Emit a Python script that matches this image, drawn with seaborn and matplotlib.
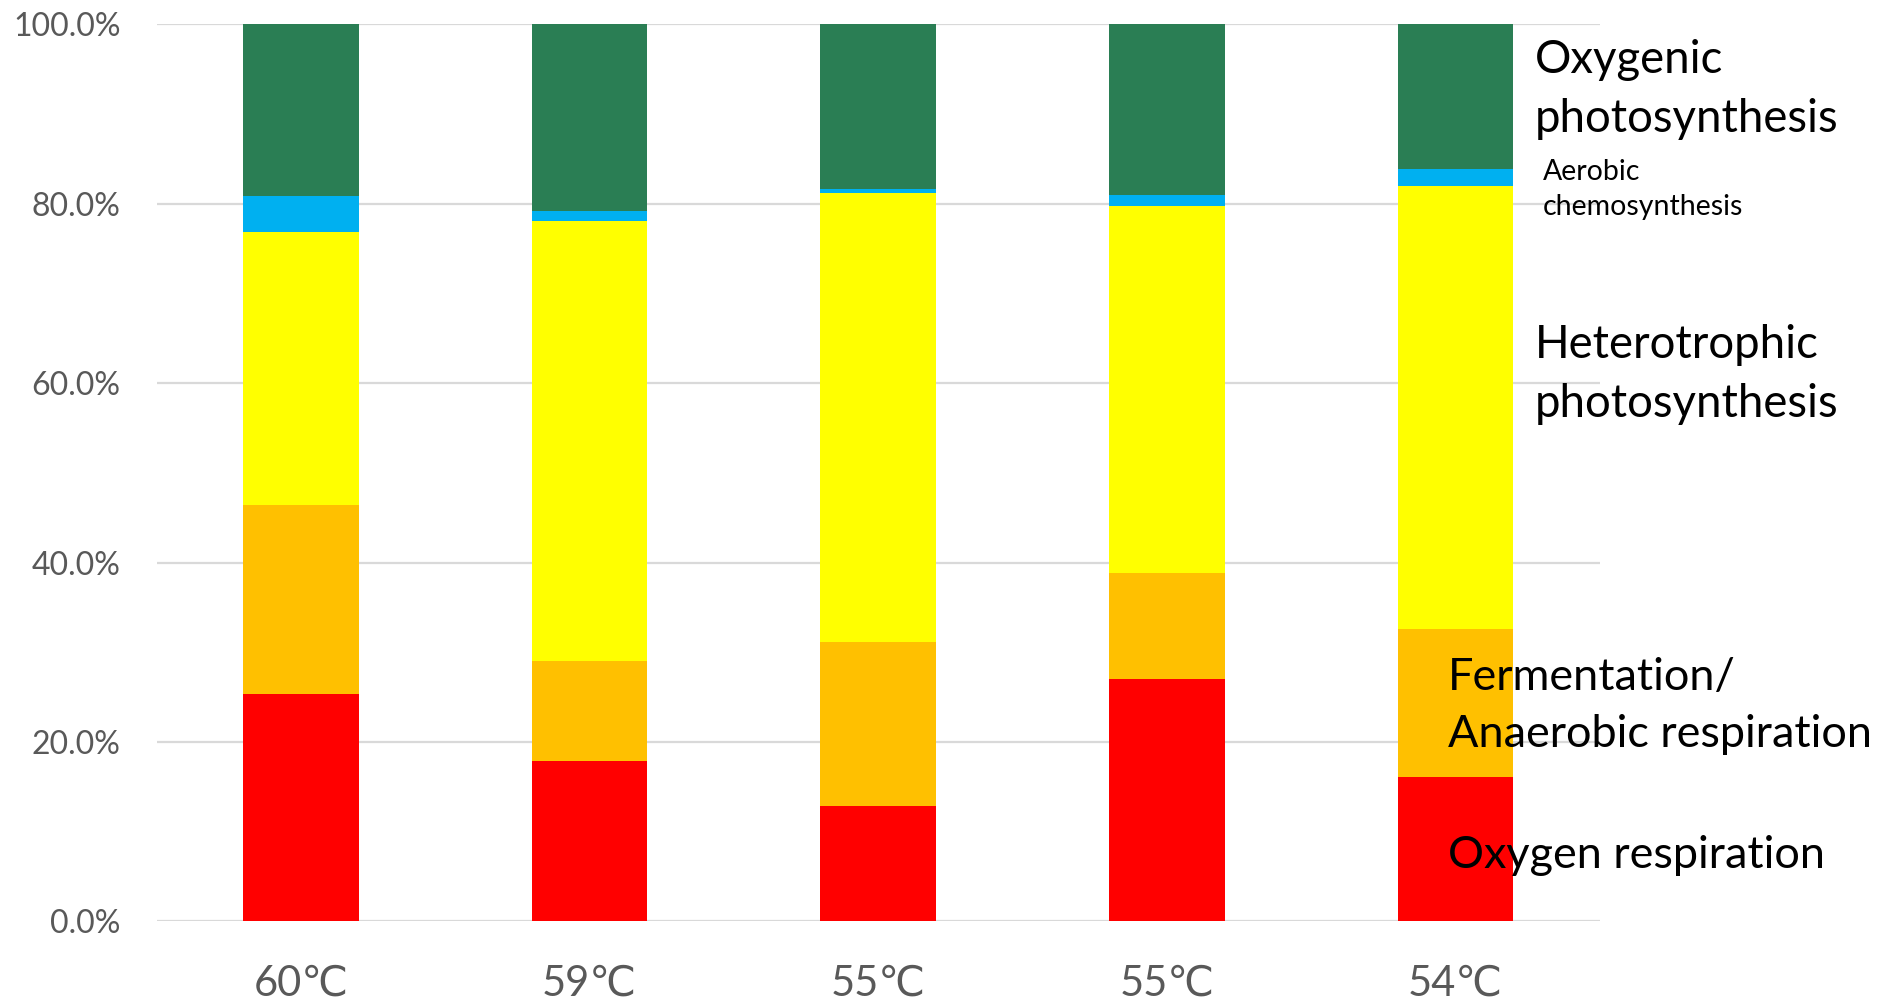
import matplotlib
matplotlib.use("Agg")
import matplotlib.pyplot as plt
import seaborn as sns
import pandas as pd
import numpy as np

# Sample temperatures (two separate sites at 55 °C)
temperatures = ["60℃", "59℃", "55℃", "55℃", "54℃"]

# Share of each metabolism (%), bottom to top
oxygen_respiration = [25.4, 17.9, 12.9, 27.0, 16.1]
fermentation_anaerobic = [21.0, 11.1, 18.3, 11.9, 16.5]
heterotrophic_photo = [30.5, 49.1, 50.0, 40.9, 49.4]
aerobic_chemo = [4.0, 1.1, 0.5, 1.2, 1.9]
oxygenic_photo = [19.1, 20.8, 18.3, 19.0, 16.1]

layer_names = ["Oxygen respiration", "Fermentation/Anaerobic respiration",
               "Heterotrophic photosynthesis", "Aerobic chemosynthesis",
               "Oxygenic photosynthesis"]
layer_colors = ["#FF0000", "#FFC000", "#FFFF00", "#00B0F0", "#2A7E54"]
y_ticks = [0, 20, 40, 60, 80, 100]

sns.set_theme(style="white")
plt.rcParams["font.family"] = ["Lato", "DejaVu Sans"]

layers = np.array([oxygen_respiration, fermentation_anaerobic,
                   heterotrophic_photo, aerobic_chemo, oxygenic_photo])
cumulative = np.cumsum(layers, axis=0)
cumulative = cumulative / cumulative[-1] * 100.0

fig = plt.figure(figsize=(18.9, 10.06), dpi=100)
ax = fig.add_axes([0.0829, 0.0840, 0.7635, 0.8918])

# Stacked bars: draw cumulative totals from the top layer down
positions = [str(i) for i in range(len(temperatures))]
for k in range(len(layer_names) - 1, -1, -1):
    df = pd.DataFrame({"pos": positions, "value": cumulative[k]})
    sns.barplot(data=df, x="pos", y="value", order=positions, color=layer_colors[k],
                width=0.4, saturation=1, ax=ax, zorder=2, linewidth=0, errorbar=None)

ax.set_ylim(0, 100)
ax.set_xlim(-0.5, len(temperatures) - 0.5)
ax.set_yticks(y_ticks)
ax.set_yticklabels([f"{v:.1f}%" for v in y_ticks], fontsize=23, color="#595959",
                   family=["Lato", "DejaVu Sans"])
ax.set_xticks(range(len(temperatures)))
ax.set_xticklabels(temperatures, fontsize=30, color="#595959",
                   family=["Lato", "DejaVu Sans"])
ax.tick_params(axis="y", length=0, pad=26)
ax.tick_params(axis="x", length=0, pad=31)
ax.set_xlabel("")
ax.set_ylabel("")
for s in ax.spines.values():
    s.set_visible(False)
ax.yaxis.grid(True, color="#D9D9D9", linewidth=1.6, zorder=0)
ax.set_axisbelow(True)

# Layer labels to the right of the last bar
label_kw = dict(transform=fig.transFigure, color="black", ha="left", va="baseline")
def place(text, x_px, y_px, size, **kw):
    fig.text(x_px / 1890, 1 - y_px / 1006, text, fontsize=size, **label_kw, **kw)

place("Oxygenic\nphotosynthesis", 1535, 132, 32.8, linespacing=1.5)
place("Aerobic\nchemosynthesis", 1543, 215, 20.5, linespacing=1.45)
place("Heterotrophic\nphotosynthesis", 1535, 417, 32.8, linespacing=1.5)
place("Fermentation/\nAnaerobic respiration", 1448, 747, 32.4, linespacing=1.5, zorder=5)
place("Oxygen respiration", 1448, 868, 32.4, zorder=5)

fig.savefig("out.png", dpi=100)
